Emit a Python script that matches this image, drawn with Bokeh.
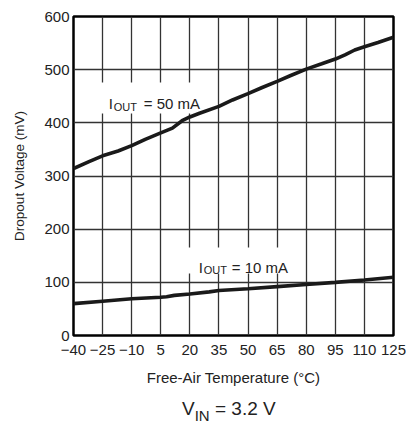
from bokeh.plotting import figure
from bokeh.models import FixedTicker, Label, BoxAnnotation, Range1d, Div
from bokeh.layouts import column
from bokeh.embed import file_html
from bokeh.resources import INLINE

# ---- data ----
temp_50 = [-40, -32, -25, -17, -10, -3, 5, 11, 16, 20, 25, 35, 42, 50, 57, 65, 72, 80, 88, 95, 100, 105, 110, 117, 125]
dropout_50 = [314, 327, 338, 347, 357, 369, 381, 390, 404, 411, 418, 431, 443, 455, 466, 478, 489, 501, 511, 520, 528, 537, 543, 551, 561]

temp_10 = [-40, -25, -10, 5, 8, 12, 20, 30, 35, 50, 65, 80, 95, 110, 125]
dropout_10 = [60, 64.5, 69, 72, 73, 75.5, 78, 82, 84.5, 88, 92, 96, 100, 104.5, 109.5]

x_ticks = [-40, -25, -10, 5, 20, 35, 50, 65, 80, 95, 110, 125]
x_tick_labels = ["\u221240", "\u221225", "\u221210", "5", "20", "35", "50", "65", "80", "95", "110", "125"]
y_ticks = [0, 100, 200, 300, 400, 500, 600]

FONT = "Liberation Sans"
TXT = "#222222"

p = figure(width=406, height=395, output_backend="svg", toolbar_location=None,
           x_range=Range1d(-40, 125), y_range=Range1d(0, 600),
           min_border_left=73, min_border_right=13, min_border_top=16, min_border_bottom=60,
           background_fill_color="white", border_fill_color="white")

p.outline_line_color = "black"
p.outline_line_width = 2.5

p.xaxis.ticker = FixedTicker(ticks=x_ticks)
p.xaxis.major_label_overrides = {t: l for t, l in zip(x_ticks, x_tick_labels)}
p.yaxis.ticker = FixedTicker(ticks=y_ticks)

for ax in (p.xaxis, p.yaxis):
    ax.axis_line_color = None
    ax.major_tick_line_color = None
    ax.minor_tick_line_color = None
    ax.major_tick_out = 0
    ax.major_tick_in = 0
    ax.major_label_text_font = FONT
    ax.major_label_text_font_size = "15px"
    ax.major_label_text_color = TXT
    ax.axis_label_text_font = FONT
    ax.axis_label_text_font_style = "normal"
    ax.axis_label_text_color = TXT

p.xaxis.major_label_standoff = 9
p.yaxis.major_label_standoff = 4
p.xaxis.axis_label = "Free-Air Temperature (\u00b0C)"
p.xaxis.axis_label_text_font_size = "15px"
p.xaxis.axis_label_standoff = 11
p.yaxis.axis_label = "Dropout Voltage (mV)"
p.yaxis.axis_label_text_font_size = "13.5px"
p.yaxis.axis_label_standoff = 14

p.xgrid.grid_line_color = "#333333"
p.ygrid.grid_line_color = "#333333"
p.xgrid.grid_line_width = 1.3
p.ygrid.grid_line_width = 1.3

# white boxes behind the in-plot labels
p.add_layout(BoxAnnotation(left=-26.4, right=29.2, bottom=417.6, top=475.9,
                           fill_color="white", fill_alpha=1, line_color=None, level="underlay"))
p.add_layout(BoxAnnotation(left=18.4, right=76.2, bottom=116.6, top=165.5,
                           fill_color="white", fill_alpha=1, line_color=None, level="underlay"))

p.line(temp_50, dropout_50, line_color="#1a1a1a", line_width=3.6)
p.line(temp_10, dropout_10, line_color="#1a1a1a", line_width=3.6)


def sub_label(fig, x, y, main, sub, rest, size, sub_size, sub_dx, sub_dy, rest_dx):
    kw = dict(text_font=FONT, text_baseline="alphabetic", text_color=TXT)
    fig.add_layout(Label(x=x, y=y, text=main, text_font_size=size, **kw))
    fig.add_layout(Label(x=x, y=y, x_offset=sub_dx, y_offset=sub_dy, text=sub, text_font_size=sub_size, **kw))
    fig.add_layout(Label(x=x, y=y, x_offset=rest_dx, text=rest, text_font_size=size, **kw))


sub_label(p, -21.8, 436, "I", "OUT", "= 50 mA", "15px", "11px", 5, -3, 35)
sub_label(p, 24.6, 128, "I", "OUT", "= 10 mA", "15px", "11px", 5, -3, 33)

# caption below the chart
caption = Div(
    text=("<div style=\"font-family:'Liberation Sans',Arial,sans-serif;font-size:19px;color:#222222;"
          "padding-left:182px;line-height:19px;margin-top:4px;white-space:nowrap\">"
          "V<span style=\"font-size:15px;position:relative;top:6px\">IN</span> = 3.2 V</div>"),
    width=406, height=29, margin=0)

open("out.html", "w").write(file_html(column(p, caption), INLINE))
